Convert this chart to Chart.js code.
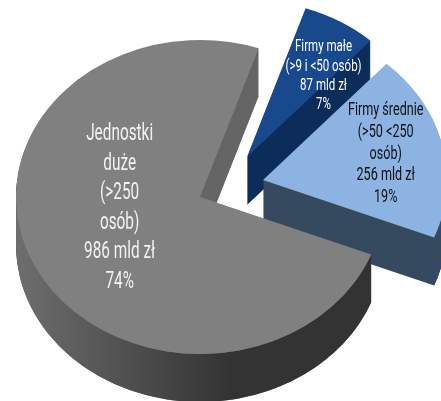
<!DOCTYPE html>
<html><head><meta charset="utf-8">
<script src="https://cdn.jsdelivr.net/npm/chart.js@4/dist/chart.umd.min.js"></script>
<style>html,body{margin:0;padding:0;background:#fff;overflow:hidden}#wrap{width:441px;height:401px}</style>
</head><body><div id="wrap"><canvas id="c" width="441" height="401"></canvas></div>
<script>
// ---- data ----
const categories = ["Jednostki duże (>250 osób)", "Firmy małe (>9 i <50 osób)", "Firmy średnie (>50 <250 osób)"];
const labelLines = [["Jednostki", "duże", "(>250", "osób)"], ["Firmy małe", "(>9 i <50 osób)"], ["Firmy średnie", "(>50 <250", "osób)"]];
const values = [986, 87, 256];
const unit = "mld zł";

// ---- styles ----
const topColors = ["#808080", "#17498C", "#8DB3E2"];
const wallColors = ["#666666", "#0C2C59", "#364A5F"];
const bandColors = [["#6E6E6E", "#333333"], ["#0C2C59", "#0C2C59"], ["#364A5F", "#364A5F"]];
const textColors = ["#F2F2F2", "#FFFFFF", "#111111"];
const fontSizes = [24, 16, 18];
const textSqueeze = [0.64, 0.72, 0.7];
const lineHeights = [29.6, 19.3, 21.8];
const labelRadius = [0.44, 0.67, 0.69];
const labelAngleNudge = [18, 8, -1.7];
const explodeShift = [[0, 0], [47, -40], [63, -17]];
const TILT = 0.853, DEPTH = 48;
const sideOrder = [1, 2, 0], topOrder = [0, 1, 2];
const FONT = "Roboto, 'DejaVu Sans Condensed', sans-serif";

function tilt(ctx, el, dx, dy) {
  ctx.translate(dx, dy);
  ctx.translate(0, el.y);
  ctx.scale(1, TILT);
  ctx.translate(0, -el.y);
}
function wedge(ctx, el) {
  ctx.beginPath();
  ctx.moveTo(el.x, el.y);
  ctx.arc(el.x, el.y, el.outerRadius, el.startAngle, el.endAngle);
  ctx.closePath();
}

const pie3d = {
  id: 'pie3d',
  beforeDatasetDraw() { return false; },
  afterDatasetsDraw(chart) {
    const ctx = chart.ctx;
    const arcs = chart.getDatasetMeta(0).data;
    // sides
    sideOrder.forEach(i => {
      const el = arcs[i];
      const [dx, dy] = explodeShift[i];
      ctx.fillStyle = wallColors[i];
      for (let t = DEPTH; t >= 1; t -= 1) {
        ctx.save(); tilt(ctx, el, dx, dy + t); wedge(ctx, el); ctx.fill(); ctx.restore();
      }
      const r = el.outerRadius;
      for (let m = -1; m <= 2; m++) {
        const a1 = Math.max(el.startAngle, 2 * Math.PI * m);
        const a2 = Math.min(el.endAngle, 2 * Math.PI * m + Math.PI);
        if (a2 <= a1) continue;
        ctx.save();
        tilt(ctx, el, dx, dy);
        ctx.beginPath();
        ctx.arc(el.x, el.y, r, a1, a2);
        ctx.arc(el.x, el.y + DEPTH / TILT, r, a2, a1, true);
        ctx.closePath();
        const g = ctx.createLinearGradient(el.x - r, 0, el.x + 30, 0);
        g.addColorStop(0, bandColors[i][0]);
        g.addColorStop(1, bandColors[i][1]);
        ctx.fillStyle = g;
        ctx.fill();
        ctx.restore();
      }
    });
    // top faces
    topOrder.forEach(i => {
      const el = arcs[i];
      const [dx, dy] = explodeShift[i];
      ctx.save(); tilt(ctx, el, dx, dy); el.draw(ctx); ctx.restore();
    });
    // labels
    const total = values.reduce((a, b) => a + b, 0);
    arcs.forEach((el, i) => {
      const [dx, dy] = explodeShift[i];
      const mid = (el.startAngle + el.endAngle) / 2 + labelAngleNudge[i] * Math.PI / 180;
      const rr = el.outerRadius * labelRadius[i];
      const px = el.x + rr * Math.cos(mid) + dx;
      const py = el.y + rr * Math.sin(mid) * TILT + dy;
      const lines = labelLines[i].concat([values[i] + " " + unit, Math.round(values[i] / total * 100) + "%"]);
      const n = lines.length;
      lines.forEach((s, j) => {
        ctx.save();
        ctx.font = "400 " + fontSizes[i] + "px " + FONT;
        ctx.fillStyle = textColors[i];
        ctx.textAlign = "center";
        ctx.textBaseline = "alphabetic";
        ctx.translate(px, py + (j - (n - 1) / 2) * lineHeights[i] + 0.36 * fontSizes[i]);
        ctx.scale(textSqueeze[i], 1);
        ctx.fillText(s, 0, 0);
        ctx.restore();
      });
    });
  }
};

new Chart(document.getElementById('c'), {
  type: 'pie',
  data: {
    labels: categories,
    datasets: [{
      data: values,
      backgroundColor: topColors,
      borderWidth: 0,
      rotation: 111.5,
      radius: 184
    }]
  },
  options: {
    responsive: false,
    devicePixelRatio: 1,
    animation: false,
    events: [],
    layout: { padding: { left: 0, right: 41, top: 0, bottom: 7 } },
    plugins: { legend: { display: false }, tooltip: { enabled: false } }
  },
  plugins: [pie3d]
});
</script>
</body></html>
